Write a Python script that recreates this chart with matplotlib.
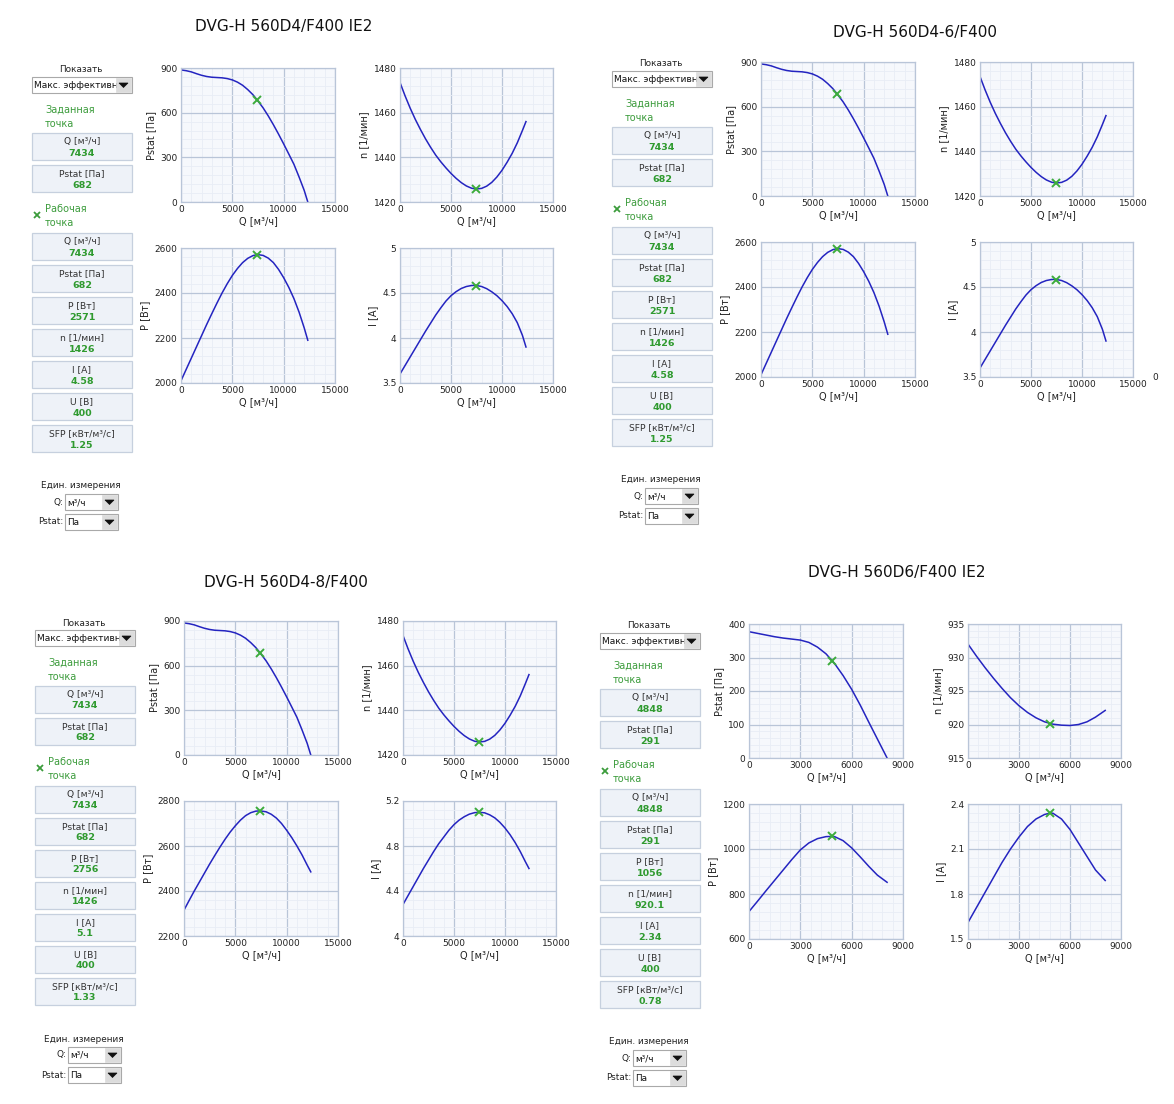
import matplotlib
matplotlib.use('Agg')
import matplotlib.pyplot as plt
from matplotlib.patches import Rectangle, Polygon
from matplotlib.ticker import MultipleLocator, AutoMinorLocator, FuncFormatter

W, H = 1174, 1104
plt.rcParams['font.family'] = ['DejaVu Sans']

# ---------------- data ----------------
titles = ["DVG-H 560D4/F400 IE2", "DVG-H 560D4-6/F400",
          "DVG-H 560D4-8/F400", "DVG-H 560D6/F400 IE2"]

q_d4 = [0, 500, 1000, 1500, 2000, 2500, 3000, 3500, 4000, 4500, 5000, 5500, 6000, 6500,
        7000, 7434, 8000, 8500, 9000, 9500, 10000, 10500, 11000, 11500, 12000, 12350]
pstat_d4 = [887, 882, 874, 862, 851, 843, 838, 836, 834, 829, 820, 805, 784, 755,
            721, 684, 632, 578, 519, 456, 390, 322, 253, 168, 78, 0]
n_d4 = [1473.5, 1467.5, 1462, 1457, 1452.5, 1448.3, 1444.5, 1441, 1438, 1435.3, 1432.8, 1430.6, 1428.7, 1427.2,
        1426.2, 1425.8, 1426.1, 1427.1, 1428.8, 1431.2, 1434.2, 1437.8, 1441.8, 1446.5, 1452, 1456]
p_d4 = [2010, 2060, 2110, 2160, 2210, 2260, 2308, 2355, 2400, 2441, 2478, 2509, 2535, 2554,
        2566, 2571, 2567, 2555, 2535, 2505, 2468, 2425, 2375, 2315, 2245, 2190]
i_d4 = [3.6, 3.695, 3.79, 3.885, 3.98, 4.075, 4.165, 4.255, 4.335, 4.41, 4.47, 4.515, 4.55, 4.572,
        4.583, 4.585, 4.572, 4.548, 4.513, 4.47, 4.415, 4.35, 4.27, 4.17, 4.03, 3.9]
p_d48 = [2315, 2358, 2400, 2440, 2480, 2520, 2558, 2595, 2630, 2662, 2690, 2715, 2735, 2748,
         2755, 2756, 2752, 2741, 2724, 2700, 2670, 2637, 2600, 2560, 2515, 2485]
i_d48 = [4.28, 4.36, 4.44, 4.52, 4.6, 4.675, 4.75, 4.82, 4.88, 4.94, 4.99, 5.03, 5.06, 5.083,
         5.096, 5.1, 5.095, 5.077, 5.05, 5.01, 4.96, 4.9, 4.83, 4.75, 4.66, 4.6]

q_d6 = [0, 500, 1000, 1500, 2000, 2500, 3000, 3500, 4000, 4500, 4848, 5000, 5500, 6000,
        6500, 7000, 7500, 8070]
pstat_d6 = [377, 372, 367, 362, 358, 355, 352, 345, 331, 311, 291, 282, 246, 205,
            158, 107, 57, 0]
n_d6 = [932.0, 930.2, 928.5, 926.9, 925.4, 924.0, 922.8, 921.8, 921.0, 920.4, 920.15, 920.05, 919.9, 919.85,
        920.0, 920.4, 921.1, 922.1]
p_d6 = [722, 768, 815, 861, 907, 953, 996, 1027, 1046, 1055, 1056, 1055, 1037, 1005,
        965, 923, 884, 852]
i_d6 = [1.61, 1.71, 1.81, 1.91, 2.01, 2.1, 2.18, 2.25, 2.3, 2.33, 2.34, 2.338, 2.3, 2.23,
        2.14, 2.05, 1.96, 1.89]

op_q = [7434, 7434, 7434, 4848]
op_pstat = [682, 682, 682, 291]
op_p = [2571, 2571, 2756, 1056]
op_n = ["1426", "1426", "1426", "920.1"]
op_i = ["4.58", "4.58", "5.1", "2.34"]
op_u = [400, 400, 400, 400]
op_sfp = ["1.25", "1.25", "1.33", "0.78"]

box_labels = ["Q [м³/ч]", "Pstat [Па]", "P [Вт]", "n [1/мин]", "I [A]", "U [В]", "SFP [кВт/м³/с]"]

curves_q = [q_d4, q_d4, q_d4, q_d6]
curves_pstat = [pstat_d4, pstat_d4, pstat_d4, pstat_d6]
curves_n = [n_d4, n_d4, n_d4, n_d6]
curves_p = [p_d4, p_d4, p_d48, p_d6]
curves_i = [i_d4, i_d4, i_d48, i_d6]

# ---------------- layout / style ----------------
offsets = [(0, 0), (580, -6), (3, 553), (568, 556)]
title_pos = [(284, 27), (915, 33), (286, 582), (897, 573)]

axis_cfg = [
    (15000, 5000, (0, 900, 300), (1420, 1480, 20), (2000, 2600, 200), (3.5, 5.0, 0.5)),
    (15000, 5000, (0, 900, 300), (1420, 1480, 20), (2000, 2600, 200), (3.5, 5.0, 0.5)),
    (15000, 5000, (0, 900, 300), (1420, 1480, 20), (2200, 2800, 200), (4.0, 5.2, 0.4)),
    (9000, 3000, (0, 400, 100), (915, 935, 5), (600, 1200, 200), (1.5, 2.4, 0.3)),
]

GREEN = '#3c9c3c'
VGREEN = '#2f9a2f'
LINE = '#2424c0'
GRID = '#b9c5d8'
MINOR = '#e8edf5'
FACE = '#f6f8fc'

fig = plt.figure(figsize=(W / 100, H / 100), dpi=100)
bg = fig.add_axes([0, 0, 1, 1])
bg.set_xlim(0, W)
bg.set_ylim(H, 0)
bg.axis('off')

fmt = FuncFormatter(lambda v, p: '%g' % round(v, 6))


def add_ax(x0, y0, x1, y1):
    return fig.add_axes([x0 / W, 1 - y1 / H, (x1 - x0) / W, (y1 - y0) / H])


def style(ax, xmax, xstep, lims, ylabel):
    lo, hi, st = lims
    ax.set_facecolor(FACE)
    ax.set_xlim(0, xmax)
    ax.set_ylim(lo, hi)
    ax.xaxis.set_major_locator(MultipleLocator(xstep))
    ax.yaxis.set_major_locator(MultipleLocator(st))
    ax.xaxis.set_minor_locator(AutoMinorLocator(5))
    ax.yaxis.set_minor_locator(AutoMinorLocator(5))
    ax.xaxis.set_major_formatter(fmt)
    ax.yaxis.set_major_formatter(fmt)
    ax.grid(which='major', color=GRID, lw=0.9)
    ax.grid(which='minor', color=MINOR, lw=0.6)
    ax.set_axisbelow(True)
    for s in ax.spines.values():
        s.set_color(GRID)
        s.set_linewidth(0.9)
    ax.tick_params(which='both', length=0, labelsize=6.5, pad=2.5, colors='#222')
    ax.set_xlabel("Q [м³/ч]", fontsize=7, labelpad=1.5, color='#222')
    ax.set_ylabel(ylabel, fontsize=7, labelpad=3, color='#222')


def dropdown(x, y, w, h, text, fs=6.5):
    bg.add_patch(Rectangle((x, y), w, h, facecolor='white', edgecolor='#a9a9a9', lw=0.8, zorder=2))
    bg.text(x + 2, y + h / 2 + 0.5, text, ha='left', va='center', fontsize=fs, color='#111', zorder=3)
    bx = x + w - 16
    bg.add_patch(Rectangle((bx, y + 1), 15, h - 2, facecolor='#dcdcdc', edgecolor='#dcdcdc', lw=0.5, zorder=4))
    cx, cy = bx + 7.5, y + h / 2
    bg.add_patch(Polygon([(cx - 4.5, cy - 2), (cx + 4.5, cy - 2), (cx, cy + 2.5)], closed=True,
                         facecolor='#111', edgecolor='#111', lw=0.5, zorder=5))


def valbox(x, y, label, value):
    bg.add_patch(Rectangle((x, y), 100, 27, facecolor='#eef2f8', edgecolor='#c6d0de', lw=0.9, zorder=2))
    bg.text(x + 50, y + 8.5, label, ha='center', va='center', fontsize=6.6, color='#333', zorder=3)
    bg.text(x + 50, y + 20, value, ha='center', va='center', fontsize=6.8, color=VGREEN,
            fontweight='bold', zorder=3)


for k in range(4):
    dx, dy = offsets[k]
    tx, ty = title_pos[k]
    bg.text(tx, ty, titles[k], ha='center', va='center', fontsize=11, color='#111')

    # sidebar
    bg.text(81 + dx, 70 + dy, 'Показать', ha='center', va='center', fontsize=6.4, color='#222')
    dropdown(32 + dx, 77 + dy, 100, 16, 'Макс. эффективн')
    bg.text(45 + dx, 110 + dy, 'Заданная', ha='left', va='center', fontsize=7, color=GREEN)
    bg.text(45 + dx, 124 + dy, 'точка', ha='left', va='center', fontsize=7, color=GREEN)
    valbox(32 + dx, 133 + dy, box_labels[0], str(op_q[k]))
    valbox(32 + dx, 165 + dy, box_labels[1], str(op_pstat[k]))
    bg.plot([37 + dx], [215 + dy], marker='x', ms=5, mew=1.3, color=GREEN, ls='none')
    bg.text(45 + dx, 209 + dy, 'Рабочая', ha='left', va='center', fontsize=7, color=GREEN)
    bg.text(45 + dx, 223 + dy, 'точка', ha='left', va='center', fontsize=7, color=GREEN)
    vals = [str(op_q[k]), str(op_pstat[k]), str(op_p[k]), op_n[k], op_i[k], str(op_u[k]), op_sfp[k]]
    for j in range(7):
        valbox(32 + dx, 233 + 32 * j + dy, box_labels[j], vals[j])
    bg.text(81 + dx, 486 + dy, 'Един. измерения', ha='center', va='center', fontsize=6.4, color='#222')
    bg.text(63 + dx, 502 + dy, 'Q:', ha='right', va='center', fontsize=6.4, color='#222')
    dropdown(65 + dx, 494 + dy, 53, 16, 'м³/ч', fs=6.4)
    bg.text(63 + dx, 522 + dy, 'Pstat:', ha='right', va='center', fontsize=6.4, color='#222')
    dropdown(65 + dx, 514 + dy, 53, 16, 'Па', fs=6.4)

    # charts
    xmax, xstep, lp, ln, lpw, li = axis_cfg[k]
    q = curves_q[k]
    oq = op_q[k]
    specs = [
        ((181, 68, 335, 202), curves_pstat[k], op_pstat[k], lp, "Pstat [Па]"),
        ((400, 68, 553, 202), curves_n[k], float(op_n[k]), ln, "n [1/мин]"),
        ((181, 248, 335, 383), curves_p[k], op_p[k], lpw, "P [Вт]"),
        ((400, 248, 553, 383), curves_i[k], float(op_i[k]), li, "I [A]"),
    ]
    for (x0, y0, x1, y1), ys, oy, lims, yl in specs:
        ax = add_ax(x0 + dx, y0 + dy, x1 + dx, y1 + dy)
        style(ax, xmax, xstep, lims, yl)
        ax.plot(q, ys, color=LINE, lw=1.1, solid_joinstyle='round')
        ax.plot([oq], [oy], marker='x', ms=6, mew=1.4, color='#3cac3c', ls='none', zorder=5)

# stray tick label at the right edge of panel 2
bg.text(1155, 378, '0', ha='center', va='center', fontsize=6.5, color='#222')

fig.savefig('out.png', dpi=100, facecolor='white')
